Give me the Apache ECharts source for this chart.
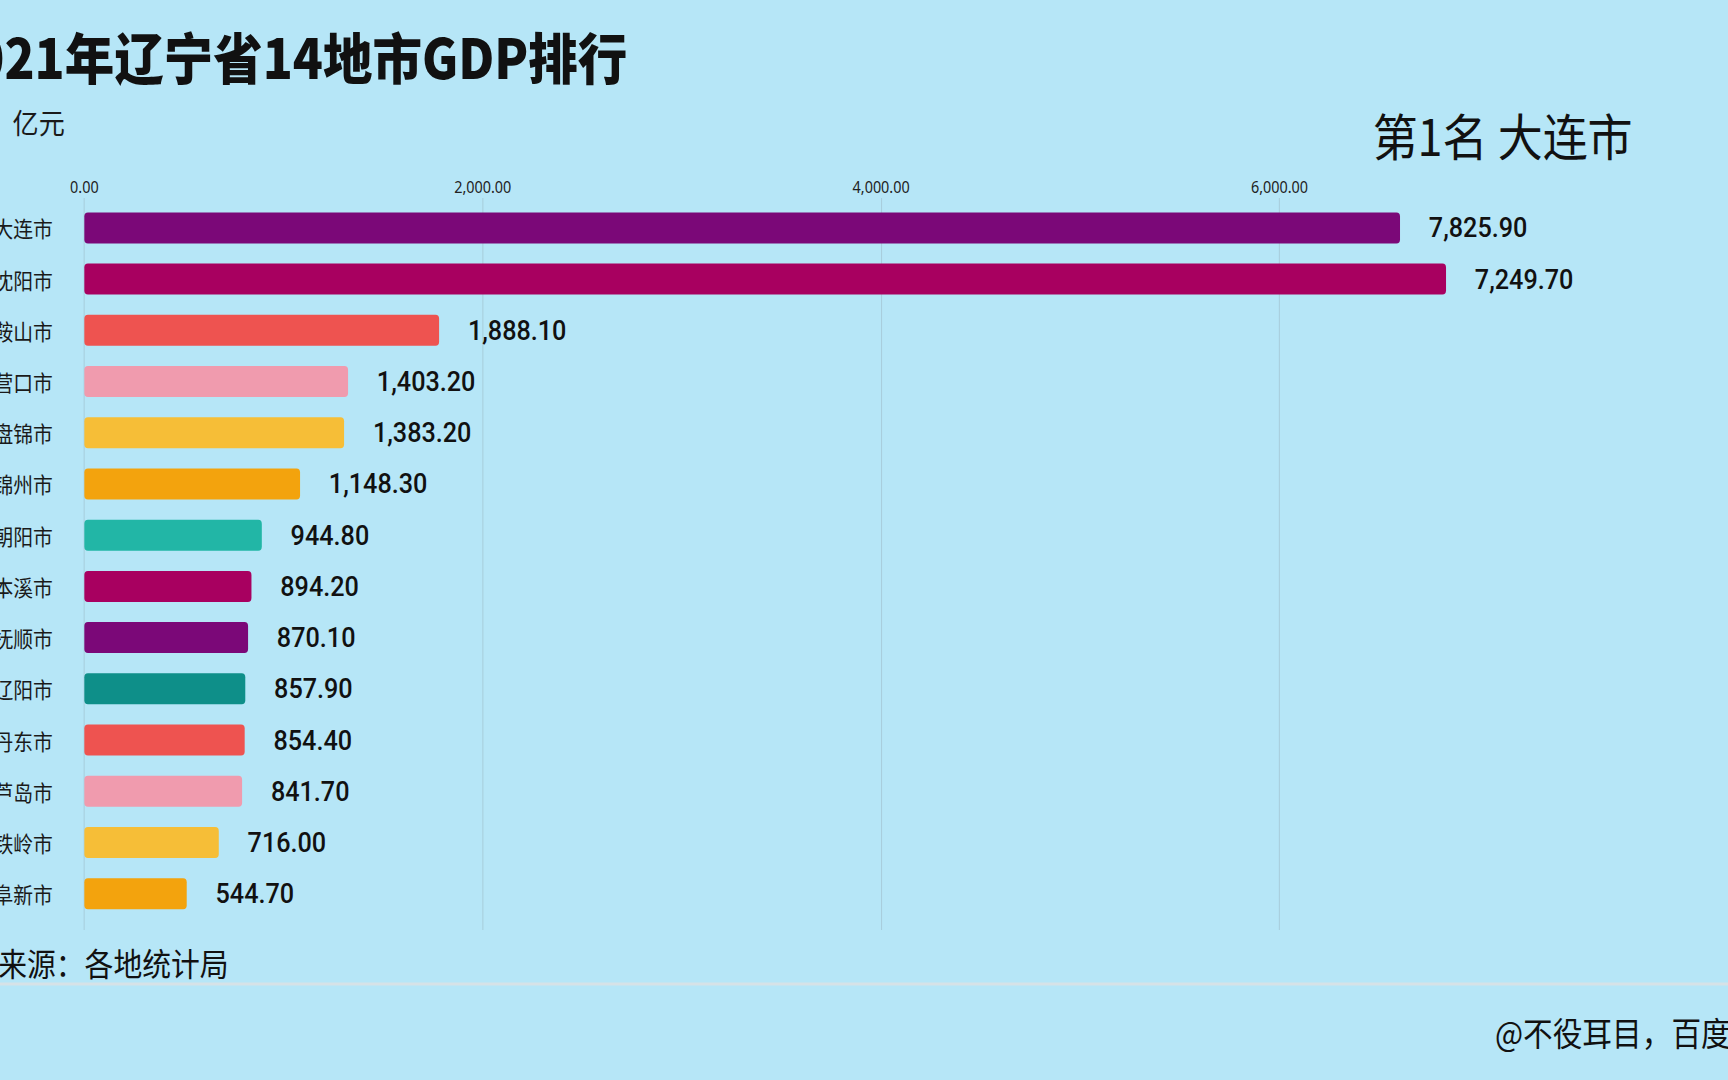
<!DOCTYPE html>
<html>
<head>
<meta charset="utf-8">
<script src="https://cdn.jsdelivr.net/npm/echarts@6/dist/echarts.min.js"></script>
<style>
  html, body { margin: 0; padding: 0; width: 1728px; height: 1080px; overflow: hidden; background: #b6e6f7; }
  #chart { width: 1920px; height: 1080px; transform: scaleX(0.9); transform-origin: 0 0; }
</style>
</head>
<body>
<div id="chart"></div>
<script>
// ---- data ----
const cities = ['大连市', '沈阳市', '鞍山市', '营口市', '盘锦市', '锦州市', '朝阳市', '本溪市', '抚顺市', '辽阳市', '丹东市', '葫芦岛市', '铁岭市', '阜新市'];
// GDP values shown as labels (亿元)
const gdpValues = [7825.90, 7249.70, 1888.10, 1403.20, 1383.20, 1148.30, 944.80, 894.20, 870.10, 857.90, 854.40, 841.70, 716.00, 544.70];
// bar lengths in this animation frame, read against the axis
const barLengths = [6605, 6836, 1781, 1324, 1304, 1083, 891, 839, 822, 808, 805, 792, 675, 514];
const barColors = ['#7b0878', '#a80060', '#ee5350', '#f09bae', '#f6be37', '#f3a30d', '#22b6a6', '#a80060', '#7b0878', '#0e8f89', '#ee5350', '#f09bae', '#f6be37', '#f3a30d'];
const tickInterval = 2000;
const titleText = '2021年辽宁省14地市GDP排行';
const unitText = '单位：亿元';
const rankText = '第1名 大连市';
const sourceText = '来源：各地统计局';
const creditText = '@不役耳目，百度';

const fmt = v => Number(v).toLocaleString('en-US', { minimumFractionDigits: 2, maximumFractionDigits: 2 });
const axisMax = Math.max(...barLengths);

const chart = echarts.init(document.getElementById('chart'), null, { renderer: 'svg', width: 1920, height: 1080 });

const gridLeft = 93.7, gridRight = 313.3;

const option = {
  backgroundColor: '#b6e6f7',
  animation: false,
  grid: [
    { left: gridLeft, right: gridRight, top: 198, height: 732, containLabel: false, outerBoundsMode: 'none' },
    { left: gridLeft, right: gridRight, top: 202.3, height: 717, containLabel: false, outerBoundsMode: 'none' }
  ],
  xAxis: [
    {
      gridIndex: 0, type: 'value', position: 'top', min: 0, max: axisMax, interval: tickInterval,
      axisLine: { show: false }, axisTick: { show: false },
      axisLabel: { margin: 3, fontSize: 16, color: '#222', fontFamily: 'Noto Sans', showMaxLabel: false, formatter: v => fmt(v) },
      splitLine: { show: true, showMaxLine: false, lineStyle: { color: '#a6cbd9', width: 1 } }
    },
    {
      gridIndex: 1, type: 'value', min: 0, max: axisMax, show: false
    }
  ],
  yAxis: [
    { gridIndex: 0, type: 'value', show: false },
    {
      gridIndex: 1, type: 'category', inverse: true, data: cities,
      axisLine: { show: false }, axisTick: { show: false },
      axisLabel: { margin: 35, fontSize: 22, color: '#1a1a1a', fontFamily: 'Noto Sans CJK SC' }
    }
  ],
  series: [{
    type: 'bar',
    xAxisIndex: 1, yAxisIndex: 1,
    barWidth: 31,
    data: barLengths.map((v, i) => ({ value: v, itemStyle: { color: barColors[i], borderRadius: 4 } })),
    label: {
      show: true, position: 'right', distance: 32,
      fontFamily: 'Roboto', fontWeight: 500, fontSize: 28, color: '#111',
      formatter: p => fmt(gdpValues[p.dataIndex])
    }
  }],
  graphic: [
    { type: 'text', x: -62, y: 55, style: { text: titleText, font: '900 55px "Noto Sans CJK SC"', fill: '#111', textAlign: 'left', textVerticalAlign: 'middle', align: 'left', verticalAlign: 'middle' } },
    { type: 'text', x: -73, y: 121, style: { text: unitText, font: '29px "Noto Sans CJK SC"', fill: '#1a1a1a', textAlign: 'left', textVerticalAlign: 'middle', align: 'left', verticalAlign: 'middle' } },
    { type: 'text', x: 1814, y: 134, style: { text: rankText, font: '50px "Noto Sans CJK SC"', fill: '#111', textAlign: 'right', textVerticalAlign: 'middle', align: 'right', verticalAlign: 'middle' } },
    { type: 'text', x: -2, y: 962, style: { text: sourceText, font: '32px "Noto Sans CJK SC"', fill: '#111', textAlign: 'left', textVerticalAlign: 'middle', align: 'left', verticalAlign: 'middle' } },
    { type: 'rect', shape: { x: 0, y: 982.5, width: 1920, height: 3 }, style: { fill: '#d6e2e7' } },
    { type: 'text', x: 1661, y: 1032, style: { text: creditText, font: '33px "Noto Sans CJK SC"', fill: '#111', textAlign: 'left', textVerticalAlign: 'middle', align: 'left', verticalAlign: 'middle' } }
  ]
};
chart.setOption(option);
</script>
</body>
</html>
